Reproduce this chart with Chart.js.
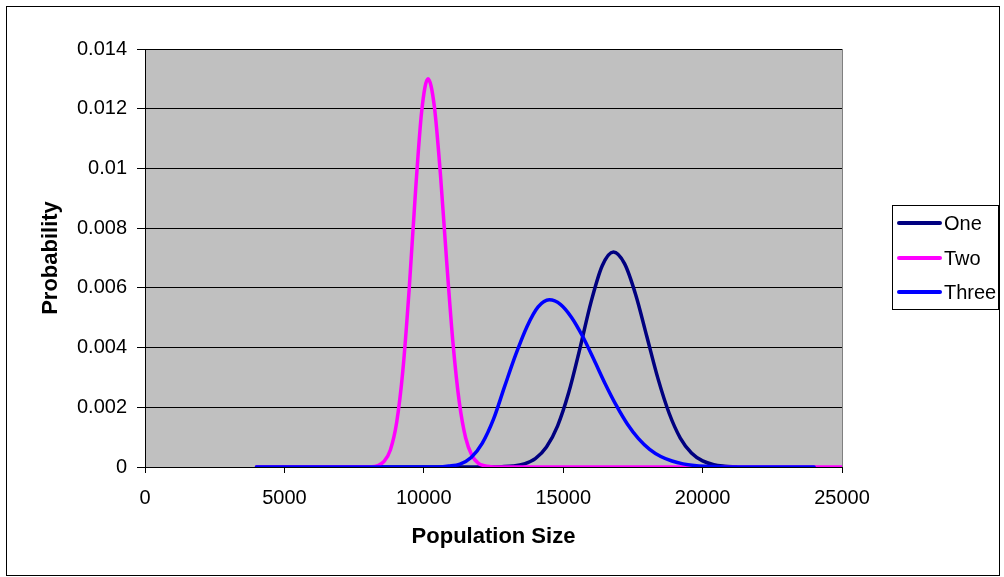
<!DOCTYPE html>
<html>
<head>
<meta charset="utf-8">
<script src="https://cdn.jsdelivr.net/npm/chart.js@4/dist/chart.umd.min.js"></script>
<style>
  html, body { margin: 0; padding: 0; background: #fff; }
  #wrap { width: 1004px; height: 577px; position: relative; }
</style>
</head>
<body>
<div id="wrap"><canvas id="c" width="1004" height="577"></canvas></div>
<script>
// ---- Data ----
const seriesNames = ['One', 'Two', 'Three'];

const oneX = [4000, 12400, 12800, 13200, 13600, 14000, 14400, 14800, 15200, 15600, 16000, 16400, 16800, 17200, 17600, 18000, 18400, 18800, 19200, 19600, 20000, 20400, 20800, 21200];
const oneY = [0, 0, 0.00001, 0.000034, 0.000105, 0.00028, 0.00067, 0.00138, 0.0025, 0.00397, 0.00553, 0.00674, 0.0072, 0.00681, 0.00577, 0.00437, 0.00296, 0.0018, 0.00097, 0.00047, 0.000206, 0.00008, 0.000028, 0];

const twoX = [4000, 8125, 8350, 8575, 8800, 9025, 9250, 9475, 9700, 9925, 10150, 10375, 10600, 10825, 11050, 11275, 11500, 11725, 11950, 12175, 12400, 12650, 25000];
const twoY = [0, 0.00001, 0.00005, 0.00019, 0.00057, 0.00148, 0.00324, 0.00595, 0.00919, 0.01192, 0.0130, 0.0121, 0.00976, 0.00682, 0.00412, 0.00216, 0.00098, 0.00039, 0.00013, 0.00004, 0.00001, 0, 0];

const threeX = [4000, 10500, 10900, 11300, 11700, 12100, 12500, 12900, 13300, 13700, 14100, 14500, 14900, 15300, 15700, 16100, 16500, 16900, 17300, 17700, 18100, 18500, 18900, 19300, 19700, 20100, 20500, 20900, 24000];
const threeY = [0, 0, 0.00003, 0.0001, 0.00032, 0.0008, 0.0016, 0.0027, 0.00377, 0.0047, 0.00536, 0.0056, 0.00545, 0.00501, 0.00437, 0.0036, 0.0028, 0.00207, 0.00144, 0.00095, 0.00059, 0.00035, 0.0002, 0.000104, 0.000052, 0.000025, 0.000011, 0, 0];

const xTickLabels = ['0', '5000', '10000', '15000', '20000', '25000'];
const yTickLabels = ['0', '0.002', '0.004', '0.006', '0.008', '0.01', '0.012', '0.014'];

const xTitle = 'Population Size';
const yTitle = 'Probability';

// ---- Build ----
function pts(xs, ys) { return xs.map((x, i) => ({ x: x, y: ys[i] })); }

const FONT = "'Liberation Sans', Arial, sans-serif";

const bgPlugin = {
  id: 'excelFrame',
  beforeDraw(chart) {
    const { ctx, chartArea: a } = chart;
    ctx.save();
    ctx.fillStyle = '#ffffff';
    ctx.fillRect(0, 0, chart.width, chart.height);
    ctx.fillStyle = '#C0C0C0';
    ctx.fillRect(a.left, a.top, a.right - a.left, a.bottom - a.top);
    ctx.restore();
  },
  beforeDatasetsDraw(chart) {
    const { ctx, chartArea: a } = chart;
    ctx.save();
    ctx.strokeStyle = '#808080';
    ctx.lineWidth = 1;
    ctx.beginPath();
    ctx.moveTo(Math.round(a.right) + 0.5, a.top);
    ctx.lineTo(Math.round(a.right) + 0.5, a.bottom);
    ctx.stroke();
    ctx.restore();
  },
  afterDraw(chart) {
    const ctx = chart.ctx;
    ctx.save();
    // outer border
    ctx.strokeStyle = '#000';
    ctx.lineWidth = 1;
    ctx.strokeRect(6.5, 6.5, 993, 569);
    // legend box
    ctx.fillStyle = '#fff';
    ctx.fillRect(892.5, 205.5, 106, 104);
    ctx.strokeRect(892.5, 205.5, 106, 104);
    const ys = [223, 258, 292];
    ctx.font = '20px ' + FONT;
    ctx.textBaseline = 'middle';
    ctx.textAlign = 'left';
    seriesNames.forEach((name, i) => {
      const ds = chart.data.datasets.find(d => d.label === name);
      ctx.strokeStyle = ds.borderColor;
      ctx.lineWidth = 4;
      ctx.lineCap = 'round';
      ctx.beginPath();
      ctx.moveTo(899, ys[i]);
      ctx.lineTo(940, ys[i]);
      ctx.stroke();
      ctx.fillStyle = '#000';
      ctx.fillText(name, 944, ys[i] + 1);
    });
    ctx.restore();
  }
};

const common = {
  pointRadius: 0,
  pointHoverRadius: 0,
  borderWidth: 3.5,
  fill: false,
  cubicInterpolationMode: 'monotone',
  borderCapStyle: 'round',
  borderJoinStyle: 'round'
};

new Chart(document.getElementById('c'), {
  type: 'line',
  data: {
    datasets: [
      Object.assign({ label: seriesNames[0], data: pts(oneX, oneY), borderColor: '#000080', backgroundColor: '#000080', order: 3 }, common),
      Object.assign({ label: seriesNames[1], data: pts(twoX, twoY), borderColor: '#FF00FF', backgroundColor: '#FF00FF', order: 2 }, common),
      Object.assign({ label: seriesNames[2], data: pts(threeX, threeY), borderColor: '#0000FF', backgroundColor: '#0000FF', order: 1 }, common)
    ]
  },
  options: {
    responsive: false,
    animation: false,
    events: [],
    layout: { padding: { left: 38, top: 49, right: 162, bottom: 27 } },
    plugins: {
      legend: { display: false },
      tooltip: { enabled: false },
      title: { display: false }
    },
    scales: {
      x: {
        type: 'linear',
        min: 0,
        max: 25000,
        afterBuildTicks(s) { s.ticks = xTickLabels.map(t => ({ value: Number(t) })); },
        afterFit(s) { s.height = 577 - 27 - 467; },
        ticks: {
          color: '#000',
          font: { family: FONT, size: 20 },
          padding: 13,
          maxRotation: 0,
          autoSkip: false,
          callback: (v, i) => xTickLabels[i]
        },
        grid: { drawOnChartArea: false, drawTicks: true, tickLength: 6, color: '#000', lineWidth: 1 },
        border: { display: true, color: '#000', width: 1 },
        title: {
          display: true, text: xTitle, color: '#000',
          font: { family: FONT, size: 22, weight: 'bold' },
          padding: { top: 0, bottom: 0 }
        }
      },
      y: {
        min: 0,
        max: 0.014,
        afterBuildTicks(s) { s.ticks = yTickLabels.map(t => ({ value: Number(t) })); },
        afterFit(s) { s.width = 145 - 38; },
        ticks: {
          color: '#000',
          font: { family: FONT, size: 20 },
          padding: 10,
          autoSkip: false,
          callback: (v, i) => yTickLabels[i]
        },
        grid: { drawOnChartArea: true, drawTicks: true, tickLength: 8, color: '#000', lineWidth: 1 },
        border: { display: true, color: '#000', width: 1 },
        title: {
          display: true, text: yTitle, color: '#000',
          font: { family: FONT, size: 22, weight: 'bold' },
          padding: { top: 0, bottom: 0 }
        }
      }
    }
  },
  plugins: [bgPlugin]
});
</script>
</body>
</html>
